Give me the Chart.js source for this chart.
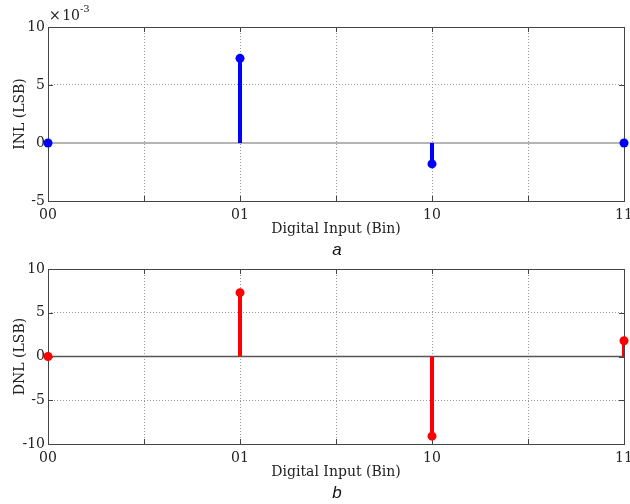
<!DOCTYPE html>
<html>
<head>
<meta charset="utf-8">
<script src="https://cdn.jsdelivr.net/npm/chart.js@4.4.0/dist/chart.umd.min.js"></script>
<style>
  body { margin: 0; background: #fff; width: 630px; height: 504px; position: relative; overflow: hidden; }
  .panel { position: absolute; left: 0; width: 630px; height: 252px; }
  .sub { position: absolute; font-family: 'Liberation Sans', Arial, sans-serif; font-style: italic;
         font-size: 17px; color: #111; width: 40px; text-align: center; line-height: 20px; }
  .mult { position: absolute; left: 49px; top: 5px; font-family: 'DejaVu Serif', serif; font-size: 14px; color: #222; }
  .mult sup { font-size: 10px; position: relative; top: -2px; }
</style>
</head>
<body>
<div class="panel" style="top:0"><canvas id="inlChart" width="630" height="252"></canvas></div>
<div class="panel" style="top:252px"><canvas id="dnlChart" width="630" height="252"></canvas></div>
<div class="mult">×&#8202;10<sup>-3</sup></div>
<div class="sub" style="left:317px; top:240px">a</div>
<div class="sub" style="left:317px; top:483px">b</div>
<script>
// ── Data ──────────────────────────────────────────────────────────────────────
const BINS    = ['00', '01', '10', '11'];
const BIN_POS = [0, 1, 2, 3];
const INL     = [0, 0.0073, -0.0018, 0];     // LSB
const DNL     = [0, 7.3, -9.1, 1.8];         // LSB
const INL_RANGE = { min: -0.005, max: 0.01, step: 0.005 };
const DNL_RANGE = { min: -10, max: 10, step: 5 };

Chart.defaults.font.family = "'DejaVu Serif', serif";
Chart.defaults.font.size   = 14;
Chart.defaults.color       = '#222';

// ── Box + inward tick marks (MATLAB style) ────────────────────────────────────
const boxPlugin = {
  id: 'box',
  beforeDatasetsDraw(chart) {
    const { ctx, chartArea: a, scales } = chart;
    ctx.save();
    ctx.strokeStyle = '#444';
    ctx.lineWidth = 1;
    ctx.beginPath();
    scales.y.ticks.forEach(t => {
      const py = Math.round(scales.y.getPixelForValue(t.value)) + 0.5;
      ctx.moveTo(a.left, py);  ctx.lineTo(a.left + 5, py);
      ctx.moveTo(a.right, py); ctx.lineTo(a.right - 5, py);
    });
    scales.x.ticks.forEach(t => {
      const px = Math.round(scales.x.getPixelForValue(t.value)) + 0.5;
      ctx.moveTo(px, a.bottom); ctx.lineTo(px, a.bottom - 5);
      ctx.moveTo(px, a.top);    ctx.lineTo(px, a.top + 5);
    });
    ctx.stroke();
    ctx.strokeRect(Math.round(a.left) + 0.5, Math.round(a.top) + 0.5,
                   Math.round(a.right - a.left), Math.round(a.bottom - a.top));
    ctx.restore();
  }
};

// ── Stem chart builder ────────────────────────────────────────────────────────
function stemChart(id, values, range, color, baseColor, baseWidth, pad, yTitle, fmt) {
  const stems = values.map((v, i) => ({
    type: 'line',
    data: [{ x: BIN_POS[i], y: 0 }, { x: BIN_POS[i], y: v }],
    borderColor: color, borderWidth: 4, pointRadius: 0, clip: 0, order: 1,
  }));
  return new Chart(document.getElementById(id), {
    type: 'scatter',
    data: { datasets: [
      { type: 'scatter', data: values.map((v, i) => ({ x: BIN_POS[i], y: v })),
        backgroundColor: color, borderWidth: 0, pointRadius: 4.5, clip: false, order: 0 },
      ...stems,
      { type: 'line', data: [{ x: 0, y: 0 }, { x: 3, y: 0 }],
        borderColor: baseColor, borderWidth: baseWidth, pointRadius: 0, order: 2 },
    ]},
    options: {
      responsive: false,
      animation: false,
      events: [],
      layout: { padding: { top: pad.top, right: 6, left: 0, bottom: pad.bottom } },
      plugins: { legend: { display: false }, tooltip: { enabled: false } },
      scales: {
        x: {
          type: 'linear', min: 0, max: 3,
          afterFit: s => { s.height = 37; s.paddingLeft = 0; s.paddingRight = 0; },
          ticks: { stepSize: 0.5, autoSkip: false, maxRotation: 0, padding: 6,
                   callback: v => Number.isInteger(v) ? BINS[v] : '' },
          grid: { color: '#999', drawTicks: false },
          border: { display: false, dash: [1, 2] },
          title: { display: true, text: 'Digital Input (Bin)', padding: { top: 0, bottom: 0 } },
        },
        y: {
          min: range.min, max: range.max,
          afterFit: s => { s.width = 48; s.paddingTop = 0; s.paddingBottom = 0; },
          ticks: { stepSize: range.step, padding: 3, callback: fmt },
          grid: { color: '#999', drawTicks: false },
          border: { display: false, dash: [1, 2] },
          title: { display: true, text: yTitle, padding: { top: 12, bottom: 0 } },
        },
      },
    },
    plugins: [boxPlugin],
  });
}

stemChart('inlChart', INL, INL_RANGE, '#0000ff', '#b4b4b4', 2, { top: 27, bottom: 14 }, 'INL (LSB)',
          v => Math.round(v * 1000));
stemChart('dnlChart', DNL, DNL_RANGE, '#ff0000', '#555', 1.5, { top: 17, bottom: 23 }, 'DNL (LSB)',
          v => v);
</script>
</body>
</html>
